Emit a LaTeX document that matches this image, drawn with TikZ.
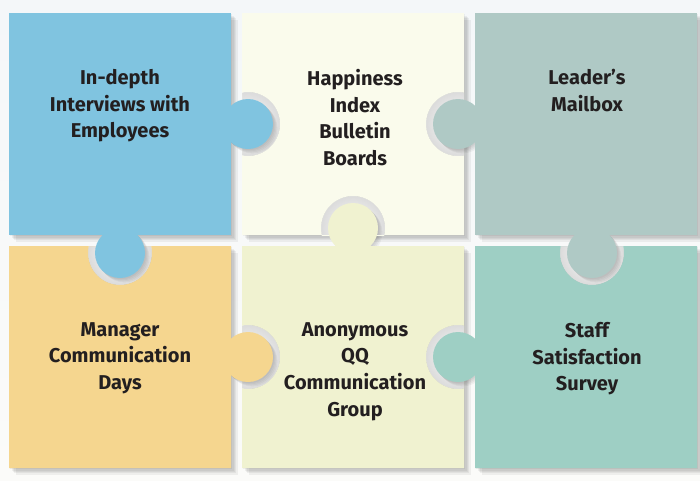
\documentclass[tikz,border=0pt]{standalone}
\usepackage{fontspec}
\setmainfont{Fira Sans}
\definecolor{bgtop}{HTML}{F4F7F9}
\definecolor{bgbot}{HTML}{FBFBF9}
\definecolor{cA}{HTML}{80C4E0}
\definecolor{cB}{HTML}{FAFBEC}
\definecolor{cC}{HTML}{AFC9C5}
\definecolor{cD}{HTML}{F5D68F}
\definecolor{cE}{HTML}{F0F2D0}
\definecolor{cF}{HTML}{9ECFC4}
\definecolor{txt}{HTML}{231F20}
\begin{document}
\begin{tikzpicture}[x=0.75pt,y=-0.75pt,
  lbl/.style={font=\bfseries\fontsize{15}{20}\selectfont, text=txt, align=center, anchor=north, inner sep=0pt},
  holeshade/.style={inner color=white, outer color=gray!28},
  shadowfill/.style={black, opacity=0.05}
]
\def\R{25}
\def\H{32}
% background
\shade[top color=bgtop, bottom color=bgbot] (0,0) rectangle (700,480);
\useasboundingbox (0,0) rectangle (700,480);

% drop shadows of the pieces
\foreach \x/\y in {9/13,242/13,475/13,9/246,242/246,475/246}{
  \foreach \k in {1,...,5}{
    \fill[shadowfill] (\x+\k*1.3,\y+\k*1.3) rectangle (\x+222+\k*1.3,\y+222+\k*1.3);
  }
}

% hole interiors
\foreach \x/\y/\cx/\cy in {242/13/248/124, 242/13/458/124, 242/13/353/228,
                           9/246/120/253, 242/246/248/357, 242/246/458/357,
                           475/246/592/253}{
  \begin{scope}
    \clip (\x,\y) rectangle (\x+222,\y+222);
    \shade[holeshade] (\cx,\cy) circle (\H);
  \end{scope}
}

% tab shadows
\foreach \cx/\cy in {248/124,120/253,458/124,592/253,248/357,353/228,458/357}{
  \foreach \k in {1,...,4}{
    \fill[black, opacity=0.045] (\cx+\k*1.1,\cy+\k*1.1) circle (\R);
  }
}

% bodies
\fill[cA] (9,13) rectangle (231,235);
\begin{scope}
  \clip (242,13) rectangle (464,235);
  \fill[cB, even odd rule] (242,13) rectangle (464,235)
    (248,124) circle (\H) (458,124) circle (\H) (353,228) circle (\H);
\end{scope}
\fill[cC] (475,13) rectangle (697,235);
\begin{scope}
  \clip (9,246) rectangle (231,468);
  \fill[cD, even odd rule] (9,246) rectangle (231,468) (120,253) circle (\H);
\end{scope}
\begin{scope}
  \clip (242,246) rectangle (464,468);
  \fill[cE, even odd rule] (242,246) rectangle (464,468)
    (248,357) circle (\H) (458,357) circle (\H);
\end{scope}
\begin{scope}
  \clip (475,246) rectangle (697,468);
  \fill[cF, even odd rule] (475,246) rectangle (697,468) (592,253) circle (\H);
\end{scope}

% tabs
\fill[cA] (248,124) circle (\R) (120,253) circle (\R);
\fill[cC] (458,124) circle (\R) (592,253) circle (\R);
\fill[cD] (248,357) circle (\R);
\fill[cE] (353,228) circle (\R);
\fill[cF] (458,357) circle (\R);

% labels
\node[lbl] (t1) at (120,69) {In-depth\\Interviews with\\Employees};
\node[lbl] (t2) at (355,69) {Happiness\\Index\\Bulletin\\Boards};
\node[lbl] (t3) at (587,69) {Leader’s\\Mailbox};
\node[lbl] (t4) at (120,322) {Manager\\Communication\\Days};
\node[lbl] (t5) at (355,322) {Anonymous\\QQ\\Communication\\Group};
\node[lbl] (t6) at (587,322) {Staff\\Satisfaction\\Survey};
\end{tikzpicture}
\end{document}
